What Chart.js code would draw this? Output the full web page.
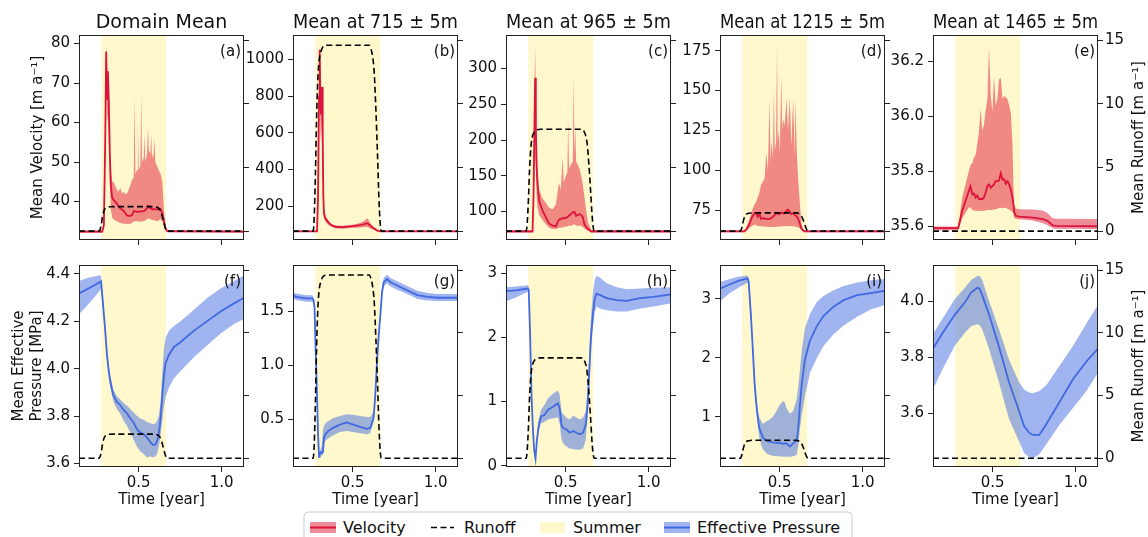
<!DOCTYPE html>
<html>
<head>
<meta charset="utf-8">
<script src="https://cdn.jsdelivr.net/npm/chart.js@4.4.1/dist/chart.umd.min.js"></script>
<style>
  html, body { margin: 0; padding: 0; background: #fff; }
  body { width: 1148px; height: 537px; position: relative; overflow: hidden; font-family: "DejaVu Sans", sans-serif; }
  canvas { position: absolute; }
  #legend { position: absolute; left: 300px; top: 508px; }
</style>
</head>
<body>
<svg id="legend" width="560" height="29" xmlns="http://www.w3.org/2000/svg" font-family="DejaVu Sans, sans-serif" font-size="16">
  <rect x="4" y="4" width="548" height="40" rx="4" ry="4" fill="#fff" stroke="#cccccc" stroke-width="1"/>
  <rect x="10" y="14" width="26" height="11" fill="rgba(225,45,70,0.55)"/>
  <line x1="10" y1="19.5" x2="36" y2="19.5" stroke="#DC143C" stroke-width="2"/>
  <text x="43" y="19.5" dominant-baseline="central" fill="#111">Velocity</text>
  <line x1="131" y1="19.5" x2="154" y2="19.5" stroke="#000" stroke-width="1.6" stroke-dasharray="6,3.5"/>
  <text x="164" y="19.5" dominant-baseline="central" fill="#111">Runoff</text>
  <rect x="240" y="14" width="25" height="11" fill="#FFF8CD"/>
  <text x="273" y="19.5" dominant-baseline="central" fill="#111">Summer</text>
  <rect x="364" y="14" width="26" height="11" fill="rgba(65,105,225,0.5)"/>
  <line x1="364" y1="19.5" x2="390" y2="19.5" stroke="#4169E1" stroke-width="2"/>
  <text x="397" y="19.5" dominant-baseline="central" fill="#111">Effective Pressure</text>
</svg>
<script>
// ---------------- DATA ----------------
const timeRange = [0.14, 1.135];
const timeTicks = ['0.5', '1.0'];
const summer = [0.274, 0.666];

const runoffRange = [-0.7, 15.4];
const runoffTicks = ['0', '5', '10', '15'];
const runoffT      = [0.14, 0.262, 0.268, 0.275, 0.282, 0.29, 0.298, 0.31, 0.325, 0.35, 0.58, 0.6, 0.61, 0.62, 0.63, 0.64, 0.65, 0.658, 0.665, 0.672, 1.135];
const runoffDomain = [0, 0, 0.15, 0.58, 1.15, 1.57, 1.77, 1.86, 1.91, 1.92, 1.92, 1.92, 1.88, 1.80, 1.63, 1.25, 0.77, 0.35, 0.10, 0, 0];
const runoff715    = [0, 0, 1.17, 4.38, 8.76, 11.97, 13.43, 14.16, 14.53, 14.6, 14.6, 14.6, 14.31, 13.72, 12.41, 9.49, 5.84, 2.63, 0.73, 0, 0];
const runoff965    = [0, 0, 0.64, 2.4, 4.8, 6.56, 7.36, 7.76, 7.96, 8.0, 8.0, 8.0, 7.84, 7.52, 6.8, 5.2, 3.2, 1.44, 0.4, 0, 0];
const runoff1215   = [0, 0, 0.11, 0.43, 0.86, 1.17, 1.32, 1.39, 1.42, 1.43, 1.43, 1.43, 1.40, 1.34, 1.22, 0.93, 0.57, 0.26, 0.07, 0, 0];
const runoff1465   = [0, 0, 0, 0, 0, 0, 0, 0, 0, 0, 0, 0, 0, 0, 0, 0, 0, 0, 0, 0, 0];

// velocity rows: [time, mean, lower, upper]
const velDomain = [
 [0.14,32.4,32.1,32.7],[0.28,32.4,32.1,32.7],[0.29,34,33.5,34.5],[0.298,55,50,60],[0.304,78,70,79.5],
 [0.309,66,60,72],[0.314,73,62,74],[0.32,65,55,72],[0.326,52,45,56],[0.332,44,38,48],[0.34,41,36,45],
 [0.348,40.5,35.5,45],[0.358,40,35.3,44],[0.368,39.5,35,43],[0.378,38.8,34.8,42.5],[0.389,38.3,34.6,43.5],
 [0.399,38,34.5,42],[0.409,37.7,34.4,42.5],[0.419,37.1,34.4,42],[0.429,36.5,34.3,42],[0.439,36.4,34.3,43],
 [0.449,36.4,34.4,44],[0.46,36.6,34.6,45.5],[0.47,37.6,35,46],[0.475,37.6,35,66.5],[0.48,37.5,35,47],
 [0.49,37.4,35,48],[0.495,37.4,35,60],[0.50,37.4,35,48],[0.51,37.5,34.8,49],[0.515,37.5,35,67],
 [0.52,37.5,35,50],[0.53,37.6,35,51],[0.535,37.7,35.2,57],[0.54,37.9,35.2,50],[0.55,38.2,35.5,52],
 [0.556,38.9,35.8,59],[0.561,38.9,35.8,53],[0.57,38.3,35.5,52],[0.576,38.2,35.4,57],[0.58,38.1,35.4,51],
 [0.59,38.1,35.3,52],[0.595,38.1,35.3,56],[0.60,38,35.2,50],[0.61,38,35,49],[0.62,38,35.2,48],
 [0.632,38.1,35.5,47],[0.642,37,35,45],[0.652,35.2,34,38],[0.662,33.1,32.8,34],[0.672,32.5,32.2,32.8],
 [1.135,32.4,32.1,32.7]
];
const vel715 = [
 [0.14,62,58,66],[0.285,62,58,66],[0.291,250,150,300],[0.297,800,600,900],[0.301,1054,850,1060],
 [0.305,780,600,900],[0.309,700,550,820],[0.315,850,650,860],[0.319,600,350,700],[0.323,250,150,300],
 [0.327,160,130,175],[0.335,135,115,145],[0.35,115,100,125],[0.362,103,92,112],[0.38,92,84,100],
 [0.402,86,78,94],[0.443,85,77,93],[0.484,89,80,97],[0.524,94,82,103],[0.55,97,83,110],[0.565,100,84,118],
 [0.58,105,86,128],[0.589,107,86,132],[0.6,98,80,120],[0.606,94,78,108],[0.626,80,70,86],[0.646,67,63,70],
 [0.667,62,58,66],[1.135,62,58,66]
];
const vel965 = [
 [0.14,72,70,74],[0.30,72,70,74],[0.306,120,100,140],[0.312,230,180,280],[0.316,287,230,331],
 [0.32,220,170,260],[0.325,160,120,190],[0.33,138,105,160],[0.34,115,95,130],[0.36,101,88,118],
 [0.38,92,82,112],[0.40,83,77,105],[0.421,80,75.5,103],[0.441,79,75.5,110],[0.45,84,76,125],
 [0.46,89,77,140],[0.47,89,77,130],[0.482,91,78,176],[0.488,90,78,140],[0.50,91,79,150],[0.51,92,79,155],
 [0.515,93,80,228],[0.52,94,80,160],[0.53,96,80,165],[0.543,98.6,81,170],[0.548,99.5,82,292],
 [0.553,99.5,82,180],[0.558,97,81,218],[0.563,94,80,170],[0.583,96,80,160],[0.593,95,80,150],
 [0.603,92,78,138],[0.613,82,76,120],[0.624,78,74,100],[0.634,75.7,73,85],[0.654,72,70,74],[1.135,72,70,74]
];
const vel1215 = [
 [0.14,61.6,61,62.2],[0.287,61.6,61,62.2],[0.30,63,62,64],[0.32,67,64,70],[0.335,71,65,75],
 [0.348,73,66,78.7],[0.358,73,65.5,80],[0.368,70.7,65,83],[0.378,72.5,65,86],[0.388,69.4,64.8,91],
 [0.40,70,64.6,93],[0.409,69.5,64.5,95],[0.419,69.4,64.5,111],[0.429,69.4,64.5,100],[0.439,69.4,64.4,145],
 [0.444,69.6,64.4,105],[0.449,70,64.4,118],[0.459,70.7,64.4,108],[0.465,71.5,64.5,151],[0.47,72,64.5,112],
 [0.478,73,64.5,118],[0.484,73,64.5,179],[0.488,72.8,64.5,118],[0.495,72.5,64.5,125],[0.50,72.5,64.6,110],
 [0.51,73.5,64.8,159],[0.515,73.2,64.8,125],[0.52,73,64.8,132],[0.53,73,64.8,128],[0.541,74.6,65,145],
 [0.55,75.2,65,125],[0.561,74,65,146],[0.57,72.5,64.8,115],[0.581,73,64.8,145],[0.59,72,64.6,110],
 [0.596,71.5,64.5,144],[0.602,71,64.4,114],[0.612,69.4,64,93],[0.622,66.3,63.5,78.7],[0.632,63.2,62.5,66],
 [0.642,62.2,61.5,63],[0.652,61.6,61,62.2],[1.135,61.6,61,62.2]
];
const vel1465 = [
 [0.14,35.594,35.586,35.600],[0.2915,35.594,35.586,35.600],[0.306,35.63,35.61,35.66],[0.316,35.657,35.63,35.705],
 [0.336,35.693,35.65,35.753],[0.356,35.729,35.669,35.8],[0.366,35.747,35.67,35.824],[0.377,35.717,35.66,35.83],
 [0.387,35.72,35.658,35.85],[0.397,35.705,35.657,35.86],[0.407,35.712,35.657,35.9],[0.417,35.70,35.657,35.944],
 [0.427,35.70,35.656,36.027],[0.437,35.70,35.656,35.95],[0.447,35.705,35.657,35.967],[0.457,35.723,35.658,36.02],
 [0.468,35.747,35.66,36.063],[0.478,35.753,35.66,36.254],[0.488,35.741,35.66,36.08],[0.498,35.747,35.66,36.015],
 [0.508,35.753,35.662,36.146],[0.518,35.765,35.663,36.04],[0.528,35.765,35.665,36.063],[0.538,35.767,35.667,36.134],
 [0.549,35.794,35.668,36.14],[0.559,35.77,35.666,36.063],[0.569,35.772,35.668,36.075],[0.579,35.755,35.667,36.069],
 [0.589,35.765,35.665,36.063],[0.599,35.753,35.662,36.04],[0.609,35.735,35.657,36.015],[0.619,35.705,35.655,35.9],
 [0.625,35.68,35.645,35.75],[0.63,35.651,35.63,35.68],[0.64,35.639,35.627,35.665],[0.66,35.636,35.626,35.663],
 [0.741,35.632,35.622,35.662],[0.802,35.627,35.612,35.658],[0.832,35.62,35.605,35.648],[0.862,35.604,35.594,35.63],
 [0.883,35.602,35.592,35.628],[1.135,35.601,35.591,35.627]
];

// effective pressure rows: [time, mean, lower, upper]
const presDomain = [
 [0.14,4.318,4.23,4.37],[0.2,4.34,4.275,4.385],[0.267,4.366,4.33,4.395],[0.273,4.369,4.34,4.39],
 [0.287,4.256,4.23,4.275],[0.298,4.161,4.14,4.18],[0.308,4.065,4.045,4.085],[0.318,3.997,3.975,4.02],
 [0.328,3.949,3.925,3.975],[0.338,3.915,3.89,3.94],[0.348,3.887,3.86,3.91],[0.368,3.86,3.83,3.885],
 [0.389,3.846,3.81,3.87],[0.409,3.826,3.78,3.855],[0.429,3.812,3.76,3.845],[0.449,3.791,3.73,3.83],
 [0.47,3.771,3.70,3.815],[0.49,3.744,3.67,3.80],[0.51,3.73,3.65,3.79],[0.53,3.723,3.64,3.785],
 [0.551,3.709,3.625,3.775],[0.571,3.689,3.63,3.77],[0.587,3.678,3.625,3.765],[0.601,3.68,3.63,3.77],
 [0.611,3.696,3.64,3.78],[0.621,3.723,3.67,3.80],[0.632,3.791,3.72,3.86],[0.642,3.887,3.78,3.98],
 [0.652,3.969,3.84,4.08],[0.662,4.024,3.88,4.13],[0.682,4.058,3.92,4.16],[0.713,4.092,3.96,4.18],
 [0.753,4.113,3.99,4.20],[0.834,4.161,4.05,4.25],[0.915,4.202,4.10,4.30],[0.996,4.243,4.15,4.34],
 [1.077,4.277,4.19,4.37],[1.135,4.30,4.21,4.395]
];
const pres715 = [
 [0.14,1.65,1.62,1.68],[0.159,1.635,1.605,1.665],[0.22,1.62,1.59,1.65],[0.256,1.62,1.59,1.65],
 [0.264,1.605,1.575,1.635],[0.27,1.53,1.50,1.56],[0.276,1.17,1.14,1.20],[0.285,0.72,0.69,0.75],
 [0.291,0.36,0.33,0.39],[0.297,0.15,0.13,0.17],[0.301,0.18,0.16,0.2],[0.307,0.194,0.17,0.22],
 [0.313,0.185,0.16,0.25],[0.321,0.194,0.17,0.4],[0.327,0.329,0.28,0.44],[0.335,0.359,0.30,0.46],
 [0.352,0.389,0.32,0.48],[0.382,0.419,0.35,0.51],[0.423,0.449,0.38,0.53],[0.463,0.47,0.39,0.545],
 [0.504,0.449,0.38,0.54],[0.545,0.428,0.37,0.53],[0.585,0.41,0.36,0.52],[0.606,0.42,0.37,0.52],
 [0.626,0.509,0.47,0.57],[0.636,0.72,0.68,0.76],[0.646,1.02,0.98,1.06],[0.656,1.26,1.22,1.30],
 [0.667,1.47,1.43,1.51],[0.677,1.68,1.64,1.72],[0.687,1.77,1.73,1.81],[0.707,1.80,1.76,1.84],
 [0.728,1.77,1.73,1.81],[0.768,1.74,1.70,1.78],[0.829,1.695,1.66,1.735],[0.89,1.65,1.615,1.69],
 [0.951,1.635,1.60,1.67],[1.012,1.626,1.595,1.66],[1.135,1.626,1.595,1.66]
];
const pres965 = [
 [0.14,2.72,2.56,2.78],[0.2,2.73,2.62,2.79],[0.271,2.76,2.71,2.81],[0.277,2.74,2.70,2.79],
 [0.285,2.10,2.06,2.14],[0.294,1.09,1.05,1.13],[0.302,0.59,0.55,0.63],[0.31,0.237,0.21,0.27],
 [0.318,0.11,0.09,0.13],[0.326,0.39,0.33,0.45],[0.338,0.64,0.55,0.73],[0.352,0.77,0.66,0.87],
 [0.372,0.79,0.68,0.95],[0.393,0.87,0.72,1.05],[0.423,0.92,0.74,1.12],[0.453,0.97,0.75,1.17],
 [0.464,0.89,0.65,1.10],[0.474,0.64,0.42,0.85],[0.484,0.59,0.35,0.80],[0.504,0.565,0.30,0.75],
 [0.524,0.514,0.27,0.72],[0.545,0.54,0.26,0.78],[0.565,0.514,0.25,0.75],[0.585,0.49,0.25,0.72],
 [0.605,0.514,0.27,0.75],[0.621,0.64,0.40,0.85],[0.632,0.94,0.75,1.2],[0.642,1.45,1.25,1.7],
 [0.652,2.0,1.8,2.3],[0.666,2.405,2.2,2.75],[0.676,2.61,2.4,2.9],[0.686,2.68,2.48,2.96],
 [0.706,2.66,2.45,2.93],[0.747,2.61,2.42,2.84],[0.808,2.58,2.40,2.78],[0.868,2.567,2.40,2.75],
 [0.949,2.61,2.45,2.76],[1.03,2.63,2.48,2.77],[1.135,2.67,2.53,2.78]
];
const pres1215 = [
 [0.14,3.176,2.96,3.29],[0.2,3.25,3.1,3.34],[0.256,3.313,3.2,3.38],[0.307,3.35,3.28,3.40],
 [0.313,3.29,3.22,3.34],[0.327,2.7,2.63,2.77],[0.337,2.19,2.10,2.28],[0.348,1.6,1.5,1.7],
 [0.358,1.25,1.15,1.35],[0.368,0.98,0.85,1.1],[0.378,0.80,0.62,0.98],[0.398,0.65,0.45,0.88],
 [0.419,0.59,0.38,0.92],[0.439,0.58,0.35,0.95],[0.459,0.566,0.34,1.0],[0.48,0.56,0.33,1.10],
 [0.5,0.56,0.33,1.20],[0.52,0.54,0.32,1.27],[0.53,0.55,0.32,1.25],[0.541,0.55,0.32,1.15],
 [0.561,0.495,0.32,1.05],[0.581,0.55,0.33,1.1],[0.602,0.593,0.35,1.3],[0.612,0.81,0.5,1.5],
 [0.622,1.2,0.8,1.8],[0.632,1.53,1.0,2.1],[0.652,1.97,1.35,2.5],[0.683,2.30,1.75,2.75],
 [0.724,2.54,2.0,2.95],[0.764,2.71,2.2,3.05],[0.825,2.87,2.4,3.15],[0.886,2.98,2.55,3.22],
 [0.967,3.066,2.7,3.28],[1.049,3.10,2.82,3.32],[1.135,3.14,2.90,3.34]
];
const pres1465 = [
 [0.14,3.831,3.687,3.883],[0.2,3.888,3.76,3.94],[0.27,3.95,3.84,4.005],[0.336,3.998,3.89,4.05],
 [0.37,4.03,3.91,4.075],[0.407,4.047,3.917,4.089],[0.42,4.045,3.915,4.09],[0.437,4.02,3.90,4.075],
 [0.478,3.952,3.83,4.0],[0.538,3.837,3.71,3.90],[0.599,3.71,3.58,3.79],[0.66,3.607,3.50,3.71],
 [0.69,3.555,3.46,3.685],[0.72,3.532,3.445,3.675],[0.741,3.524,3.44,3.672],[0.781,3.524,3.455,3.68],
 [0.822,3.561,3.49,3.70],[0.903,3.641,3.56,3.77],[0.984,3.722,3.62,3.84],[1.065,3.785,3.68,3.92],
 [1.135,3.831,3.745,3.986]
];

// axis limits and tick labels
const velRangeDomain = [30.27, 82.17], velTicksDomain = ['40','50','60','70','80'];
const velRange715 = [15, 1134], velTicks715 = ['200','400','600','800','1000'];
const velRange965 = [60, 347], velTicks965 = ['100','150','200','250','300'];
const velRange1215 = [56.2, 184.9], velTicks1215 = ['75','100','125','150','175'];
const velRange1465 = [35.551, 36.296], velTicks1465 = ['35.6','35.8','36.0','36.2'];
const presRangeDomain = [3.585, 4.438], presTicksDomain = ['3.6','3.8','4.0','4.2','4.4'];
const presRange715 = [0.056, 1.93], presTicks715 = ['0.5','1.0','1.5'];
const presRange965 = [-0.02, 3.126], presTicks965 = ['0','1','2','3'];
const presRange1215 = [0.148, 3.577], presTicks1215 = ['1','2','3'];
const presRange1465 = [3.41, 4.128], presTicks1465 = ['3.6','3.8','4.0'];

const columnTitles = ['Domain Mean', 'Mean at 715 ± 5m', 'Mean at 965 ± 5m', 'Mean at 1215 ± 5m', 'Mean at 1465 ± 5m'];
const panelLetters = ['(a)','(b)','(c)','(d)','(e)','(f)','(g)','(h)','(i)','(j)'];

// ---------------- DRAWING ----------------
const FONT = '"DejaVu Sans", sans-serif';
Chart.defaults.font.family = FONT;
Chart.defaults.color = '#111';

const plotLefts = [79, 293, 506, 720, 933];
const PW = 165, PH = 208;
const rowCfg = [
  { top: 0, padTop: 0, xH: 10 },
  { top: 252, padTop: 7, xH: 45 }
];
const SUMMER_COLOR = '#FFF8CD';
const VEL_LINE = '#DC143C', VEL_BAND = 'rgba(225,45,70,0.55)';
const PRES_LINE = '#4169E1', PRES_BAND = 'rgba(65,105,225,0.5)';

const panels = [
  { row:0, col:0, kind:'vel', rows: velDomain, runoff: runoffDomain, range: velRangeDomain, ticks: velTicksDomain, ylabel: 'Mean Velocity [m a⁻¹]' },
  { row:0, col:1, kind:'vel', rows: vel715, runoff: runoff715, range: velRange715, ticks: velTicks715 },
  { row:0, col:2, kind:'vel', rows: vel965, runoff: runoff965, range: velRange965, ticks: velTicks965 },
  { row:0, col:3, kind:'vel', rows: vel1215, runoff: runoff1215, range: velRange1215, ticks: velTicks1215 },
  { row:0, col:4, kind:'vel', rows: vel1465, runoff: runoff1465, range: velRange1465, ticks: velTicks1465 },
  { row:1, col:0, kind:'pres', rows: presDomain, runoff: runoffDomain, range: presRangeDomain, ticks: presTicksDomain, ylabel: ['Mean Effective', 'Pressure [MPa]'] },
  { row:1, col:1, kind:'pres', rows: pres715, runoff: runoff715, range: presRange715, ticks: presTicks715 },
  { row:1, col:2, kind:'pres', rows: pres965, runoff: runoff965, range: presRange965, ticks: presTicks965 },
  { row:1, col:3, kind:'pres', rows: pres1215, runoff: runoff1215, range: presRange1215, ticks: presTicks1215 },
  { row:1, col:4, kind:'pres', rows: pres1465, runoff: runoff1465, range: presRange1465, ticks: presTicks1465 }
];

const decoPlugin = {
  id: 'deco',
  beforeDatasetsDraw(chart, args, o) {
    const { ctx, chartArea: a, scales: { x } } = chart;
    const x0 = x.getPixelForValue(summer[0]);
    const x1 = x.getPixelForValue(summer[1]);
    ctx.save();
    ctx.fillStyle = SUMMER_COLOR;
    ctx.fillRect(x0, a.top, x1 - x0, a.bottom - a.top);
    ctx.restore();
  },
  afterDraw(chart, args, o) {
    const { ctx, chartArea: a } = chart;
    ctx.save();
    ctx.strokeStyle = '#222';
    ctx.lineWidth = 1;
    ctx.strokeRect(Math.round(a.left) + 0.5, Math.round(a.top) + 0.5, Math.round(a.right - a.left) - 1, Math.round(a.bottom - a.top) - 1);
    ctx.fillStyle = '#111';
    ctx.font = '15px ' + FONT;
    ctx.textAlign = 'right';
    ctx.textBaseline = 'middle';
    ctx.fillText(o.letter, a.right - 3, a.top + 17);
    if (o.rightTitle) {
      ctx.translate(a.right + 41, (a.top + a.bottom) / 2);
      ctx.rotate(-Math.PI / 2);
      ctx.textAlign = 'center';
      ctx.fillText(o.rightTitle, 0, 0);
    }
    ctx.restore();
  }
};

panels.forEach((p, idx) => {
  const rc = rowCfg[p.row];
  const L = p.col === 0 ? 79 : 55;
  const R = p.col === 4 ? 50 : 20;
  const W = L + PW + R;
  const topSpace = p.row === 0 ? 35 : rc.padTop;
  const H = topSpace + PH + rc.xH;
  const cv = document.createElement('canvas');
  cv.width = W; cv.height = H;
  cv.style.left = (plotLefts[p.col] - L) + 'px';
  cv.style.top = rc.top + 'px';
  cv.style.width = W + 'px';
  cv.style.height = H + 'px';
  document.body.appendChild(cv);

  const lineColor = p.kind === 'vel' ? VEL_LINE : PRES_LINE;
  const bandColor = p.kind === 'vel' ? VEL_BAND : PRES_BAND;
  const tickFont = { family: FONT, size: 15 };
  const gridCfg = { display: true, drawOnChartArea: false, drawTicks: true, tickLength: 5, tickWidth: 1, color: '#222' };

  new Chart(cv, {
    type: 'line',
    data: {
      datasets: [
        { label: 'Runoff', data: runoffT.map((t, i) => ({ x: t, y: p.runoff[i] })), yAxisID: 'y2',
          borderColor: '#000', borderWidth: 1.6, borderDash: [6, 3.5], pointRadius: 0, fill: false,
          cubicInterpolationMode: 'monotone', order: 0 },
        { label: p.kind === 'vel' ? 'Velocity' : 'Effective Pressure', data: p.rows.map(r => ({ x: r[0], y: r[1] })), yAxisID: 'y',
          borderColor: lineColor, borderWidth: 1.8, pointRadius: 0, fill: false, tension: 0, order: 1 },
        { label: 'lower', data: p.rows.map(r => ({ x: r[0], y: r[2] })), yAxisID: 'y',
          borderColor: 'transparent', borderWidth: 0, pointRadius: 0, fill: false, order: 3 },
        { label: 'upper', data: p.rows.map(r => ({ x: r[0], y: r[3] })), yAxisID: 'y',
          borderColor: 'transparent', borderWidth: 0, pointRadius: 0, backgroundColor: bandColor, fill: '-1', order: 2 }
      ]
    },
    options: {
      responsive: false,
      animation: false,
      devicePixelRatio: 1,
      layout: { padding: { top: p.row === 0 ? 0 : rc.padTop, left: 0, right: 0, bottom: 0 } },
      plugins: {
        legend: { display: false },
        tooltip: { enabled: false },
        title: {
          display: p.row === 0,
          text: columnTitles[p.col],
          font: { family: FONT, size: 19, weight: 'normal' },
          color: '#111',
          padding: { top: 12, bottom: 0.2 },
          fullSize: false
        },
        deco: { letter: panelLetters[idx], rightTitle: p.col === 4 ? 'Mean Runoff [m a⁻¹]' : null }
      },
      scales: {
        x: {
          type: 'linear', position: 'bottom', min: timeRange[0], max: timeRange[1], bounds: 'data',
          afterBuildTicks: s => { s.ticks = timeTicks.map(v => ({ value: parseFloat(v) })); },
          afterFit: s => { s.height = rc.xH; },
          ticks: { font: tickFont, color: '#111', padding: 2, maxRotation: 0, autoSkip: false,
                   callback: (v, i) => p.row === 1 ? timeTicks[i] : '' },
          grid: gridCfg,
          border: { display: false },
          title: { display: p.row === 1, text: 'Time [year]', font: { family: FONT, size: 15 }, color: '#111', padding: { top: 0, bottom: 3 } }
        },
        y: {
          type: 'linear', position: 'left', min: p.range[0], max: p.range[1], bounds: 'data',
          afterBuildTicks: s => { s.ticks = p.ticks.map(v => ({ value: parseFloat(v) })); },
          afterFit: s => { s.width = L; },
          ticks: { font: tickFont, color: '#111', padding: 4, autoSkip: false, callback: (v, i) => p.ticks[i] },
          grid: gridCfg,
          border: { display: false },
          title: { display: p.col === 0, text: p.ylabel || '', font: { family: FONT, size: 15 }, color: '#111',
                   padding: { top: p.row === 0 ? 29.5 : 10.5, bottom: 0 } }
        },
        y2: {
          type: 'linear', position: 'right', min: runoffRange[0], max: runoffRange[1], bounds: 'data',
          afterBuildTicks: s => { s.ticks = runoffTicks.map(v => ({ value: parseFloat(v) })); },
          afterFit: s => { s.width = R; },
          ticks: { font: tickFont, color: '#111', padding: 2, autoSkip: false,
                   callback: (v, i) => p.col === 4 ? runoffTicks[i] : '' },
          grid: gridCfg,
          border: { display: false }
        }
      }
    },
    plugins: [decoPlugin]
  });
});
</script>
</body>
</html>
